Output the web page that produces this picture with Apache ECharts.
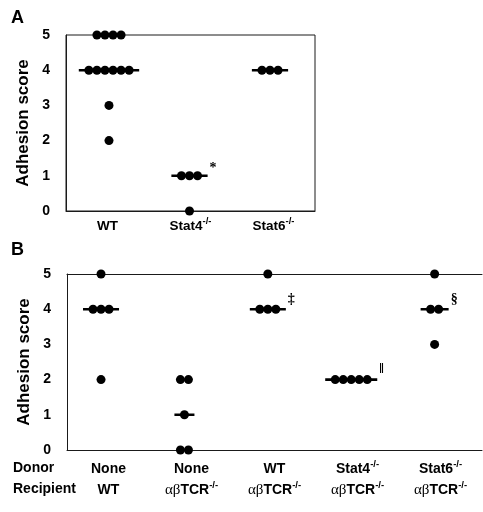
<!DOCTYPE html>
<html>
<head>
<meta charset="utf-8">
<script src="https://cdn.jsdelivr.net/npm/echarts@6/dist/echarts.min.js"></script>
<style>html,body{margin:0;padding:0;background:#fff}#c{width:483px;height:512px}</style>
</head>
<body>
<div id="c"></div>
<script>
// ---- Data ----
const catsA = ['WT', 'Stat4', 'Stat6'];
const catSupA = ['', '-/-', '-/-'];
const scoresA = [
  [5, 5, 5, 5, 4, 4, 4, 4, 4, 4, 3, 2],
  [1, 1, 1, 0],
  [4, 4, 4]
];
const marksA = ['', '*', ''];

const donorsB = ['None', 'None', 'WT', 'Stat4', 'Stat6'];
const donorSupB = ['', '', '', '-/-', '-/-'];
const recipientsB = ['WT', 'αβTCR', 'αβTCR', 'αβTCR', 'αβTCR'];
const recipientSupB = ['', '-/-', '-/-', '-/-', '-/-'];
const scoresB = [
  [5, 4, 4, 4, 2],
  [2, 2, 1, 0, 0],
  [5, 4, 4, 4],
  [2, 2, 2, 2, 2],
  [5, 4, 4, 3]
];
const marksB = ['', '', '‡', '‖', '§'];
const yTicks = [0, 1, 2, 3, 4, 5];

// ---- Helpers ----
function median(arr) {
  const s = arr.slice().sort((a, b) => a - b);
  const m = Math.floor(s.length / 2);
  return s.length % 2 ? s[m] : (s[m - 1] + s[m]) / 2;
}
function dotsFor(groups, step) {
  const pts = [];
  groups.forEach((vals, gi) => {
    const counts = {};
    vals.forEach(v => { counts[v] = (counts[v] || 0) + 1; });
    Object.keys(counts).forEach(k => {
      const n = counts[k];
      for (let j = 0; j < n; j++) pts.push([gi + (j - (n - 1) / 2) * step, +k]);
    });
  });
  return pts;
}
function medianLines(groups, step, xIdx, yIdx) {
  return groups.map((vals, gi) => {
    const med = median(vals);
    const n = vals.filter(v => v === med).length || 1;
    const half = ((n - 1) + 2.5) * step / 2;
    return {
      type: 'line', xAxisIndex: xIdx, yAxisIndex: yIdx, symbol: 'none', silent: true,
      lineStyle: { color: '#000', width: 2.6 }, z: 3,
      data: [[gi - half, med], [gi + half, med]]
    };
  });
}
function markSeries(groups, marks, step, xIdx, yIdx, offY) {
  const data = [];
  groups.forEach((vals, gi) => {
    if (!marks[gi]) return;
    const med = median(vals);
    const n = vals.filter(v => v === med).length || 1;
    const half = ((n - 1) + 2.5) * step / 2;
    data.push({ value: [gi + half, med], mark: marks[gi] });
  });
  return {
    type: 'scatter', xAxisIndex: xIdx, yAxisIndex: yIdx, symbolSize: 0.01, silent: true,
    itemStyle: { color: '#fff', opacity: 1 }, clip: false, z: 5,
    label: {
      show: true, position: 'right', distance: 2, offset: [0, offY],
      formatter: p => p.data.mark, opacity: 1,
      fontFamily: 'Liberation Serif, DejaVu Serif, serif', fontWeight: 'bold', fontSize: 14, color: '#000'
    },
    data: data
  };
}

const sans = 'Liberation Sans, Arial, Helvetica, sans-serif';
const serif = 'Liberation Serif, DejaVu Serif, serif';
function makeRich(fs) {
  return {
    b: { fontFamily: sans, fontWeight: 'bold', fontSize: fs, color: '#000', lineHeight: 21 },
    sup: { fontFamily: sans, fontWeight: 'bold', fontSize: 9.5, color: '#000', lineHeight: 11, verticalAlign: 'top' },
    g: { fontFamily: serif, fontWeight: 'normal', fontSize: fs + 1, color: '#000', lineHeight: 21 }
  };
}
function fmtName(name, sup) {
  let s = '';
  if (name.indexOf('αβ') === 0) s = '{g|αβ}{b|' + name.slice(2) + '}';
  else s = '{b|' + name + '}';
  if (sup) s += '{sup|' + sup + '}';
  return s;
}

const stepA = 0.1, stepB = 0.096;
const lineCol = '#1a1a1a';

const yAxisCommon = (gi) => ({
  type: 'value', gridIndex: gi, min: 0, max: 5, interval: 1,
  name: 'Adhesion score', nameLocation: 'middle', nameGap: 33,
  nameTextStyle: { fontFamily: sans, fontWeight: 'bold', fontSize: 17, color: '#000' },
  axisLine: { show: true, onZero: false, lineStyle: { color: lineCol, width: 1 } },
  axisTick: { show: false },
  splitLine: { show: false },
  axisLabel: { margin: 16, fontFamily: sans, fontWeight: 'bold', fontSize: 14, color: '#000',
    formatter: v => (yTicks.indexOf(v) >= 0 ? String(v) : '') }
});

const option = {
  backgroundColor: '#fff',
  animation: false,
  grid: [
    { left: 66, top: 35, width: 249, height: 176, show: true, borderColor: lineCol, borderWidth: 1 },
    { left: 67, top: 274, width: 415, height: 176 }
  ],
  xAxis: [
    { type: 'value', gridIndex: 0, min: -0.534, max: 2.559, show: false },
    { type: 'category', gridIndex: 0, data: catsA, position: 'bottom',
      axisLine: { show: true, onZero: false, lineStyle: { color: lineCol, width: 1 } }, axisTick: { show: false },
      axisLabel: { interval: 0, margin: 5, rich: makeRich(13.5), formatter: (v, i) => fmtName(v, catSupA[i]) } },
    { type: 'value', gridIndex: 1, min: -0.408, max: 4.568, show: false },
    { type: 'category', gridIndex: 1, data: donorsB, position: 'bottom',
      axisLine: { show: true, onZero: false, lineStyle: { color: lineCol, width: 1 } }, axisTick: { show: false },
      axisLabel: { interval: 0, margin: 9, rich: makeRich(14),
        formatter: (v, i) => fmtName(v, donorSupB[i]) + '\n' + fmtName(recipientsB[i], recipientSupB[i]) } },
    { type: 'category', gridIndex: 1, data: donorsB, position: 'top',
      axisLine: { show: true, onZero: false, lineStyle: { color: lineCol, width: 1 } }, axisTick: { show: false },
      axisLabel: { show: false } }
  ],
  yAxis: [yAxisCommon(0), yAxisCommon(1)],
  graphic: [
    { type: 'text', left: 11, top: 9, style: { text: 'A', font: 'bold 18px ' + sans, fill: '#000' } },
    { type: 'text', left: 11, top: 241, style: { text: 'B', font: 'bold 18px ' + sans, fill: '#000' } },
    { type: 'text', left: 13, top: 461, style: { text: 'Donor', font: 'bold 14px ' + sans, fill: '#000' } },
    { type: 'text', left: 13, top: 482, style: { text: 'Recipient', font: 'bold 14px ' + sans, fill: '#000' } }
  ],
  series: [
    { type: 'scatter', xAxisIndex: 0, yAxisIndex: 0, symbolSize: 9, clip: false, z: 4,
      itemStyle: { color: '#000', opacity: 1 }, data: dotsFor(scoresA, stepA) },
    { type: 'scatter', xAxisIndex: 2, yAxisIndex: 1, symbolSize: 9, clip: false, z: 4,
      itemStyle: { color: '#000', opacity: 1 }, data: dotsFor(scoresB, stepB) }
  ]
    .concat(medianLines(scoresA, stepA, 0, 0))
    .concat(medianLines(scoresB, stepB, 2, 1))
    .concat([markSeries(scoresA, marksA, stepA, 0, 0, -7), markSeries(scoresB, marksB, stepB, 2, 1, -10)])
};

const chart = echarts.init(document.getElementById('c'), null, { renderer: 'canvas' });
chart.setOption(option);
</script>
</body>
</html>
